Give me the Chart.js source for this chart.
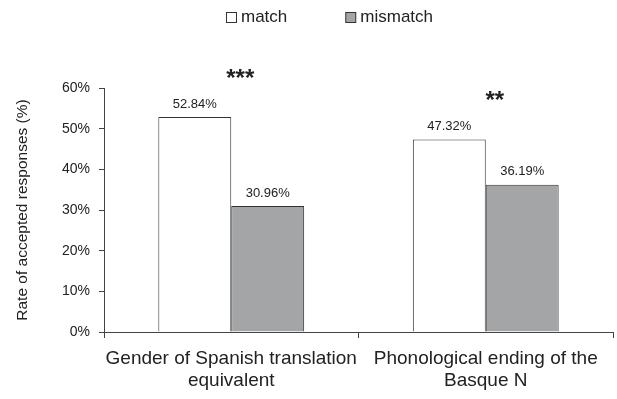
<!DOCTYPE html>
<html>
<head>
<meta charset="utf-8">
<script src="https://cdn.jsdelivr.net/npm/chart.js@4"></script>
<style>
  html, body { margin: 0; padding: 0; background: #fff; }
  #wrap { width: 617px; height: 399px; }
</style>
</head>
<body>
<div id="wrap"><canvas id="grafico"></canvas></div>
<script>
// dados
const categorias = [
  ['Gender of Spanish translation', 'equivalent'],
  ['Phonological ending of the', 'Basque N']
];
const valoresMatch = [52.84, 47.32];
const valoresMismatch = [30.96, 36.19];
const significancia = ['***', '**'];
const ticksY = [0, 10, 20, 30, 40, 50, 60];

const fonte = '"Liberation Sans", Arial, sans-serif';
const corTexto = '#222';
const corEixo = '#444';

// legenda desenhada no topo, rótulos de valor e asteriscos
const rotulosPlugin = {
  id: 'rotulos',
  afterDatasetsDraw(chart) {
    const ctx = chart.ctx;
    ctx.save();
    ctx.fillStyle = corTexto;
    ctx.textAlign = 'center';
    ctx.textBaseline = 'middle';
    ctx.font = '13px ' + fonte;
    chart.data.datasets.forEach((ds, i) => {
      chart.getDatasetMeta(i).data.forEach((bar, j) => {
        ctx.fillText(ds.data[j].toFixed(2) + '%', bar.x, bar.y - 13);
      });
    });

    // asteriscos acima de cada grupo
    const x = chart.scales.x;
    const y = chart.scales.y;
    ctx.font = 'bold 24px ' + fonte;
    significancia.forEach((s, j) => {
      const topo = Math.max(valoresMatch[j], valoresMismatch[j]);
      ctx.fillText(s, x.getPixelForValue(j) + 9, y.getPixelForValue(topo) - 38);
    });

    // legenda
    ctx.font = '17px ' + fonte;
    ctx.textAlign = 'left';
    const caixa = 10, espaco = 5, separacao = 58;
    const larguras = chart.data.datasets.map(ds => caixa + espaco + ctx.measureText(ds.label).width);
    const total = larguras.reduce((a, b) => a + b, 0) + separacao * (larguras.length - 1);
    let lx = chart.width / 2 + 21 - total / 2;
    const ly = 17;
    chart.data.datasets.forEach((ds, i) => {
      ctx.fillStyle = ds.backgroundColor;
      ctx.fillRect(lx + 0.5, ly - caixa / 2 + 0.5, caixa, caixa);
      ctx.strokeStyle = ds.borderColor;
      ctx.lineWidth = 1;
      ctx.strokeRect(lx + 0.5, ly - caixa / 2 + 0.5, caixa, caixa);
      ctx.fillStyle = corTexto;
      ctx.fillText(ds.label, lx + caixa + espaco, ly);
      lx += larguras[i] + separacao;
    });
    ctx.restore();
  }
};

new Chart(document.getElementById('grafico').getContext('2d'), {
  type: 'bar',
  data: {
    labels: categorias,
    datasets: [{
      label: 'match',
      data: valoresMatch,
      backgroundColor: '#ffffff',
      borderColor: '#333',
      borderWidth: 1,
      barPercentage: 1,
      categoryPercentage: 0.573
    }, {
      label: 'mismatch',
      data: valoresMismatch,
      backgroundColor: '#a3a5a7',
      borderColor: '#333',
      borderWidth: 1,
      barPercentage: 1,
      categoryPercentage: 0.573
    }]
  },
  options: {
    responsive: true,
    maintainAspectRatio: false,
    animation: false,
    layout: { padding: { top: 88, right: 4, left: 0, bottom: 0 } },
    plugins: {
      legend: { display: false },
      tooltip: { enabled: false }
    },
    scales: {
      x: {
        grid: { display: true, drawOnChartArea: false, drawTicks: true, tickLength: 6, color: corEixo },
        border: { color: corEixo },
        ticks: {
          color: corTexto,
          padding: 9,
          maxRotation: 0,
          font: { size: 19, family: fonte, lineHeight: 1.2 }
        },
        afterFit(scale) { scale.height = 67; }
      },
      y: {
        min: 0,
        max: 60,
        afterBuildTicks(scale) { scale.ticks = ticksY.map(v => ({ value: v })); },
        grid: { display: true, drawOnChartArea: false, drawTicks: true, tickLength: 5, color: corEixo },
        border: { color: corEixo },
        ticks: {
          color: corTexto,
          padding: 9,
          font: { size: 14, family: fonte },
          callback: v => v + '%'
        },
        title: {
          display: true,
          text: 'Rate of accepted responses (%)',
          color: corTexto,
          font: { size: 15.5, family: fonte },
          padding: { top: 13, bottom: 0 }
        },
        afterFit(scale) { scale.width = 104; }
      }
    }
  },
  plugins: [rotulosPlugin]
});
</script>
</body>
</html>
